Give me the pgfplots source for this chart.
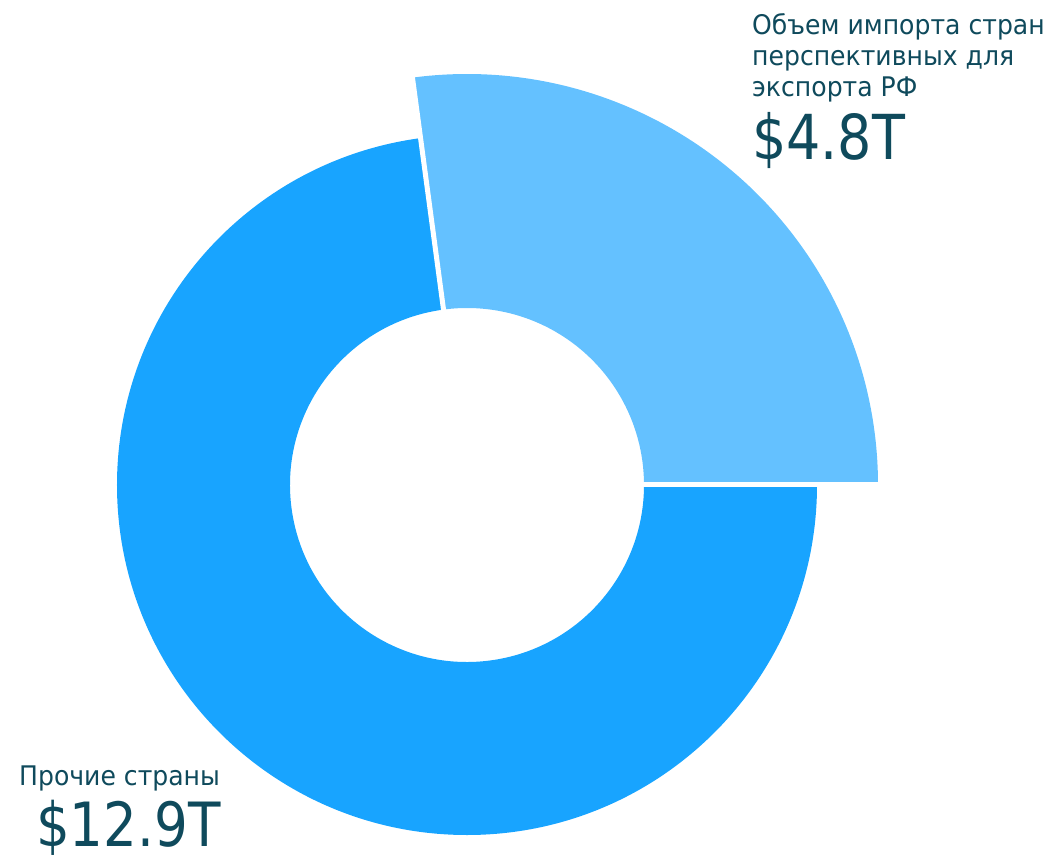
\documentclass[border=0pt]{standalone}
\usepackage{pgfplots}
\usepackage{pgfplotstable}
\pgfplotsset{compat=1.18}
\usepackage{fontspec}
\setmainfont{DejaVu Sans}
\newfontfamily\labfont{DejaVu Sans}[FakeStretch=0.93]
\newfontfamily\numfont{DejaVu Sans}[FakeStretch=0.87]
\definecolor{lightc}{HTML}{64C1FF}
\definecolor{darkc}{HTML}{18A4FF}
\definecolor{txt}{HTML}{0F4A5C}
\pgfplotstableread{
label value
a 4.8
b 12.9
}\datatable
\begin{document}
\begin{tikzpicture}
\pgfplotstablegetelem{0}{value}\of\datatable \let\va\pgfplotsretval
\pgfplotstablegetelem{1}{value}\of\datatable \let\vb\pgfplotsretval
\pgfmathsetmacro{\A}{360*\va/(\va+\vb)}
\begin{axis}[scale only axis, width=1050bp, height=856bp,
  xmin=0, xmax=1050, ymin=0, ymax=856, hide axis, clip=false]
\coordinate (ll) at (axis cs:0,0);
\coordinate (ur) at (axis cs:1050,856);
\coordinate (c) at (axis cs:467,371);
\fill[lightc] ([shift={(0:177bp)}]c) arc[start angle=0, end angle=\A, radius=177bp]
  -- ([shift={(\A:411bp)}]c) arc[start angle=\A, end angle=0, radius=411bp] -- cycle;
\fill[darkc] ([shift={(\A:177bp)}]c) arc[start angle=\A, end angle=360, radius=177bp]
  -- ([shift={(360:350bp)}]c) arc[start angle=360, end angle=\A, radius=350bp] -- cycle;
\draw[white, line width=5bp] ([shift={(0:170bp)}]c) -- ([shift={(0:420bp)}]c);
\draw[white, line width=5bp] ([shift={(\A:170bp)}]c) -- ([shift={(\A:420bp)}]c);
\node[anchor=base west, inner sep=0pt, text=txt, align=left,
  font=\labfont\fontsize{27bp}{31bp}\selectfont] at (axis cs:752,759)
  {Объем импорта стран\\перспективных для\\экспорта РФ};
\node[anchor=base west, inner sep=0pt, text=txt,
  font=\numfont\fontsize{62bp}{70bp}\selectfont] at (axis cs:752,696) {\$4.8T};
\node[anchor=base west, inner sep=0pt, text=txt,
  font=\labfont\fontsize{27bp}{31bp}\selectfont] at (axis cs:19,71) {Прочие страны};
\node[anchor=base west, inner sep=0pt, text=txt,
  font=\numfont\fontsize{61bp}{70bp}\selectfont] at (axis cs:36,10) {\$12.9T};
\end{axis}
\pgfresetboundingbox
\path[use as bounding box] (ll) rectangle (ur);
\end{tikzpicture}
\end{document}
